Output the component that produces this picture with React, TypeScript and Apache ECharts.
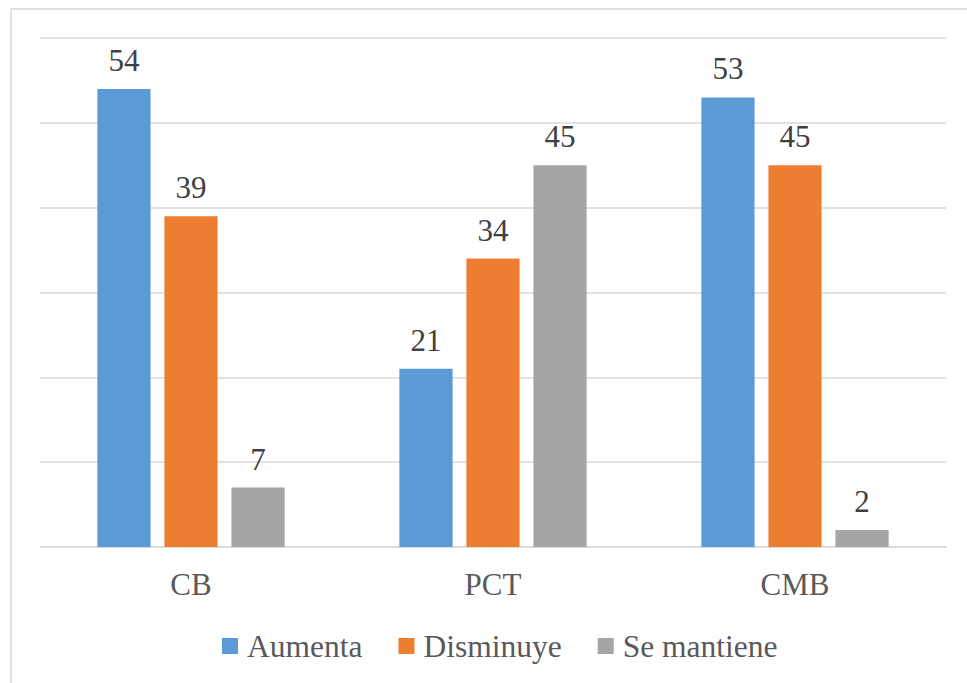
import React, { useEffect, useRef } from "react";
import * as echarts from "echarts";

const categories = ["CB", "PCT", "CMB"];
const seriesNames = ["Aumenta", "Disminuye", "Se mantiene"];
const aumenta = [54, 21, 53];
const disminuye = [39, 34, 45];
const seMantiene = [7, 45, 2];
const colors = ["#5B9BD5", "#ED7D31", "#A5A5A5"];

const FONT = "Liberation Serif";

export default function App() {
  const ref = useRef<HTMLDivElement>(null);
  useEffect(() => {
    if (!ref.current) return;
    const chart = echarts.init(ref.current, undefined, { renderer: "svg" });
    const values = [aumenta, disminuye, seMantiene];
    chart.setOption({
      animation: false,
      backgroundColor: "#ffffff",
      textStyle: { fontFamily: FONT },
      graphic: [
        {
          type: "rect",
          shape: { x: 11, y: 9, width: 1000, height: 1000 },
          style: { fill: "none", stroke: "#d9d9d9", lineWidth: 1.5 },
          silent: true,
        },
      ],
      grid: { left: 40, right: 21, top: 38, bottom: 136 },
      legend: {
        data: seriesNames,
        left: 217,
        top: 625,
        itemWidth: 16,
        itemHeight: 16,
        itemGap: 36,
        icon: "rect",
        textStyle: {
          fontFamily: FONT,
          fontSize: 31.5,
          color: "#595959",
          padding: [0, 0, 0, 4],
        },
      },
      xAxis: {
        type: "category",
        data: categories,
        axisLine: { lineStyle: { color: "#d9d9d9", width: 1.5 } },
        axisTick: { show: false },
        axisLabel: { fontFamily: FONT, fontSize: 31, color: "#595959", margin: 22 },
      },
      yAxis: {
        type: "value",
        min: 0,
        max: 60,
        interval: 10,
        axisLabel: { show: false },
        axisLine: { show: false },
        axisTick: { show: false },
        splitLine: { lineStyle: { color: "#d9d9d9", width: 1.5 } },
      },
      series: seriesNames.map((name, i) => ({
        name,
        type: "bar",
        data: values[i],
        barGap: "26%",
        barCategoryGap: "38%",
        itemStyle: { color: colors[i] },
        label: {
          show: true,
          position: "top",
          distance: 13,
          fontFamily: FONT,
          fontSize: 31,
          color: "#404040",
        },
      })),
    });
    return () => chart.dispose();
  }, []);
  return (
    <div
      ref={ref}
      style={{ position: "absolute", left: 0, top: 0, width: 967, height: 683 }}
    />
  );
}
